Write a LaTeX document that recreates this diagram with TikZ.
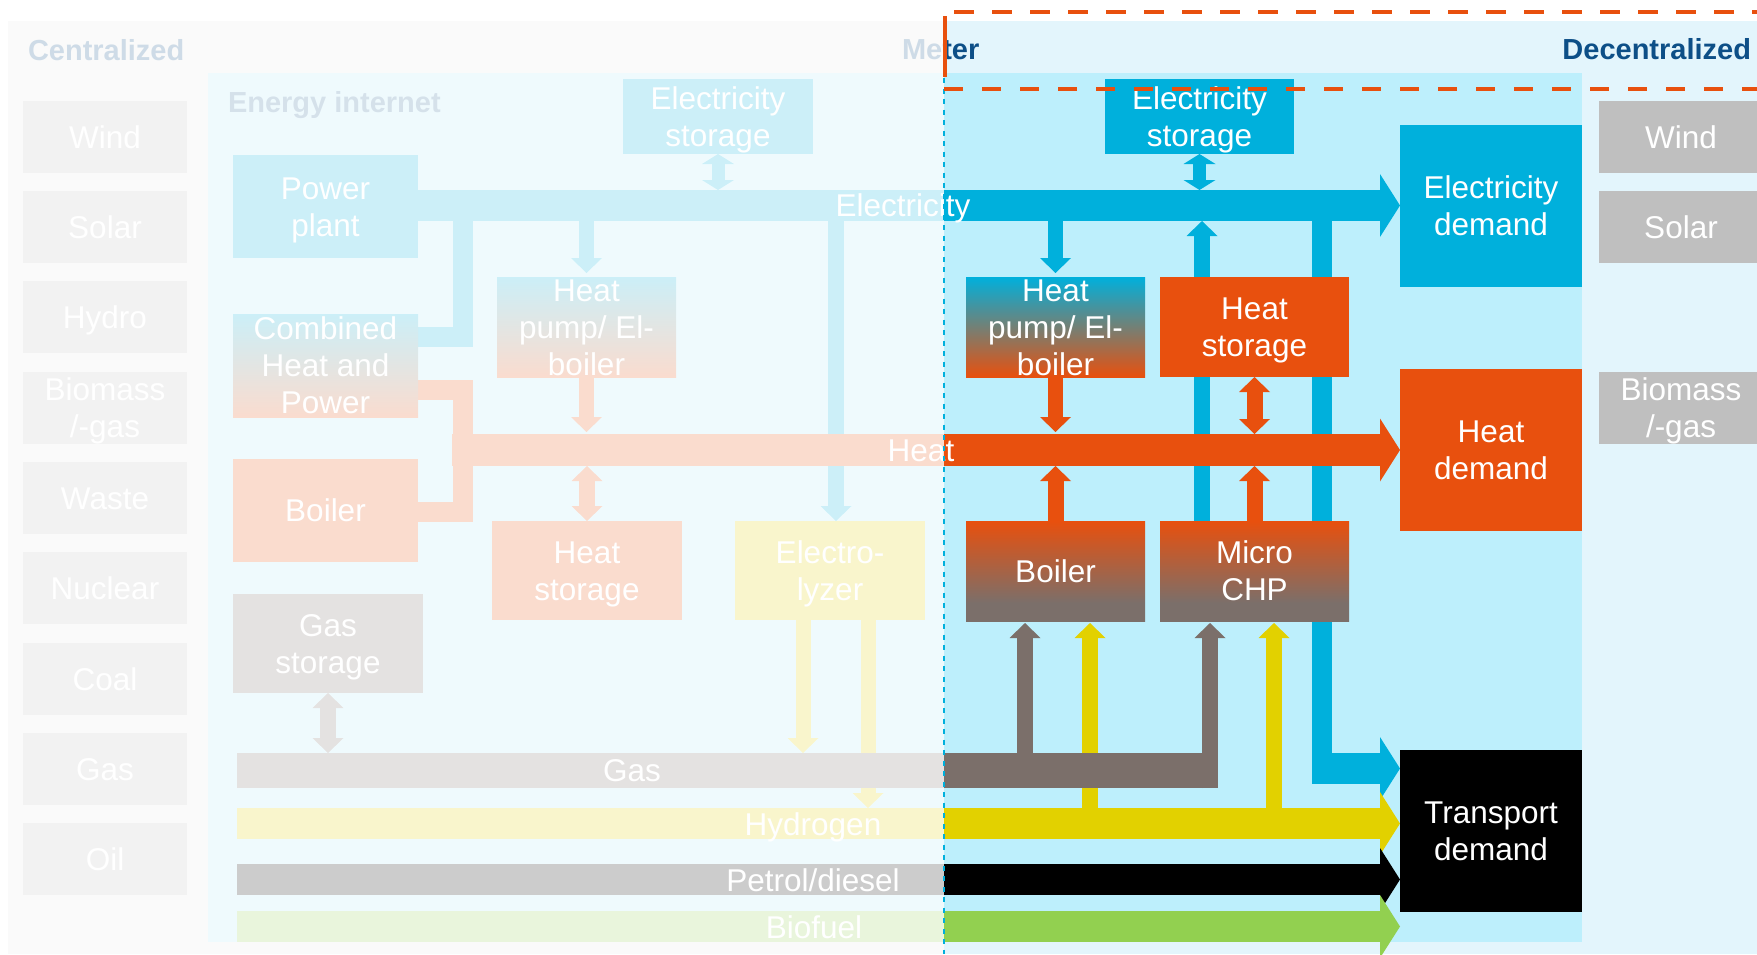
\documentclass[tikz,border=0pt]{standalone}
\usepackage{fontspec}
\setmainfont{Liberation Sans}
\usetikzlibrary{arrows.meta}
\definecolor{elecc}{HTML}{00B0DC}
\definecolor{heatc}{HTML}{E8500E}
\definecolor{gasc}{HTML}{7B6F6A}
\definecolor{htwo}{HTML}{E2D100}
\definecolor{bioc}{HTML}{92D050}
\definecolor{grayc}{HTML}{BFBFBF}
\definecolor{navy}{HTML}{0D4F87}
\definecolor{einetc}{HTML}{2F6A9A}
\definecolor{bgL}{HTML}{E6E6E6}
\definecolor{bgR}{HTML}{E3F5FC}
\definecolor{panL}{HTML}{B0EAF9}
\definecolor{panR}{HTML}{BDEFFC}
\pgfdeclareverticalshading{heatgas}{100bp}{color(0bp)=(gasc); color(34bp)=(gasc); color(75bp)=(heatc); color(100bp)=(heatc)}
\pgfdeclarelayer{bgl}
\pgfdeclarelayer{conn}
\pgfdeclarelayer{fade}
\pgfdeclarelayer{topl}
\pgfsetlayers{bgl,conn,main,fade,topl}
\newcommand\blabel[5]{%
  \foreach \lbt [count=\lbi] in {#5}{%
    \node[txt] (#1-\lbi) at (#2,{#3+11.25-(#4-1)*18.5+(\lbi-1)*37}) {\lbt};}}
\begin{document}
\begin{tikzpicture}[x=1pt,y=-1pt,
  bx/.style={rectangle, inner sep=0pt, outer sep=0pt, draw=none, anchor=north west},
  txt/.style={inner sep=0pt, outer sep=0pt, text=white, font=\fontsize{31.5}{37}\selectfont, anchor=base},
  hdr/.style={inner sep=0pt, outer sep=0pt, font=\bfseries\fontsize{29}{34}\selectfont},
  tipS/.tip={Triangle[length=15pt 0 0,width=31pt 0 0,line width=0pt 0 0]},
  tipB/.tip={Triangle[length=20pt 0 0,width=63pt 0 0,line width=0pt 0 0]},
  tipE/.tip={Triangle[length=10pt 0 0,width=32pt 0 0,line width=0pt 0 0]},
]
\useasboundingbox (0,0) rectangle (1757,954);
% backgrounds
\begin{pgfonlayer}{bgl}
\fill[bgL] (8,21) rectangle (944,954);
\fill[bgR] (944,21) rectangle (1757,954);
\fill[panL] (208,73) rectangle (944,942);
\fill[panR] (944,73) rectangle (1582,942);
\end{pgfonlayer}

% headers
\node[hdr, text=navy, anchor=base west] (cen) at (28,60) {Centralized};
\node[hdr, text=einetc, anchor=base west] (eint) at (228,112) {Energy internet};
\node[hdr, text=navy, anchor=base west] (meter) at (902,59) {Meter};
\node[hdr, text=navy, anchor=base east] (dec) at (1751,59) {Decentralized};

% left source column
\node[bx, fill=grayc, minimum width=164pt, minimum height=72pt] (wL) at (23,101) {};
\node[bx, fill=grayc, minimum width=164pt, minimum height=72pt] (sL) at (23,191) {};
\node[bx, fill=grayc, minimum width=164pt, minimum height=72pt] (hyL) at (23,281) {};
\node[bx, fill=grayc, minimum width=164pt, minimum height=72pt] (biL) at (23,372) {};
\node[bx, fill=grayc, minimum width=164pt, minimum height=72pt] (waL) at (23,462) {};
\node[bx, fill=grayc, minimum width=164pt, minimum height=72pt] (nuL) at (23,552) {};
\node[bx, fill=grayc, minimum width=164pt, minimum height=72pt] (coL) at (23,643) {};
\node[bx, fill=grayc, minimum width=164pt, minimum height=72pt] (gaL) at (23,733) {};
\node[bx, fill=grayc, minimum width=164pt, minimum height=72pt] (oiL) at (23,823) {};
\blabel{wL}{105}{137}{1}{Wind}
\blabel{sL}{105}{227}{1}{Solar}
\blabel{hyL}{105}{317}{1}{Hydro}
\blabel{biL}{105}{408}{2}{Biomass,/-gas}
\blabel{waL}{105}{498}{1}{Waste}
\blabel{nuL}{105}{588}{1}{Nuclear}
\blabel{coL}{105}{679}{1}{Coal}
\blabel{gaL}{105}{769}{1}{Gas}
\blabel{oiL}{105}{859}{1}{Oil}

% right source column
\node[bx, fill=grayc, minimum width=164pt, minimum height=72pt] (wR) at (1599,101) {};
\node[bx, fill=grayc, minimum width=164pt, minimum height=72pt] (sR) at (1599,191) {};
\node[bx, fill=grayc, minimum width=164pt, minimum height=72pt] (biR) at (1599,372) {};
\blabel{wR}{1681}{137}{1}{Wind}
\blabel{sR}{1681}{227}{1}{Solar}
\blabel{biR}{1681}{408}{2}{Biomass,/-gas}

% centralized boxes
\node[bx, fill=elecc, minimum width=185pt, minimum height=103pt] (pp) at (233,155) {};
\node[bx, fill=elecc, minimum width=190pt, minimum height=75pt] (esL) at (623,79) {};
\node[bx, top color=elecc, bottom color=heatc, minimum width=185pt, minimum height=103pt] (chp) at (233,314) {};
\node[bx, top color=elecc, bottom color=heatc, minimum width=179pt, minimum height=100pt] (hpL) at (497,277) {};
\node[bx, fill=heatc, minimum width=185pt, minimum height=103pt] (boL) at (233,459) {};
\node[bx, fill=heatc, minimum width=190pt, minimum height=99pt] (hsL) at (492,521) {};
\node[bx, fill=htwo, minimum width=190pt, minimum height=99pt] (ely) at (735,521) {};
\node[bx, fill=gasc, minimum width=190pt, minimum height=99pt] (gs) at (233,594) {};
\blabel{pp}{325.5}{206.5}{2}{Power,plant}
\blabel{esL}{718}{116.5}{2}{Electricity,storage}
\blabel{chp}{325.5}{365.5}{3}{Combined,Heat and,Power}
\blabel{hpL}{586.5}{327}{3}{Heat,pump/ El-,boiler}
\blabel{boL}{325.5}{510.5}{1}{Boiler}
\blabel{hsL}{587}{570.5}{2}{Heat,storage}
\blabel{ely}{830}{570.5}{2}{Electro-,lyzer}
\blabel{gs}{328}{643.5}{2}{Gas,storage}

% decentralized boxes
\node[bx, fill=elecc, minimum width=189pt, minimum height=75pt] (esR) at (1105,79) {};
\node[bx, top color=elecc, bottom color=heatc, minimum width=179pt, minimum height=100pt] (hpR) at (966,277) {};
\node[bx, fill=heatc, minimum width=189pt, minimum height=100pt] (hsR) at (1160,277) {};
\node[bx, shade, shading=heatgas, minimum width=179pt, minimum height=100pt] (boR) at (966,521) {};
\node[bx, shade, shading=heatgas, minimum width=189pt, minimum height=100pt] (mchp) at (1160,521) {};
\node[bx, fill=elecc, minimum width=182pt, minimum height=162pt] (ed) at (1400,125) {};
\node[bx, fill=heatc, minimum width=182pt, minimum height=162pt] (hd) at (1400,369) {};
\node[bx, fill=black, minimum width=182pt, minimum height=162pt] (td) at (1400,750) {};
\blabel{esR}{1199.5}{116.5}{2}{Electricity,storage}
\blabel{hpR}{1055.5}{327}{3}{Heat,pump/ El-,boiler}
\blabel{hsR}{1254.5}{327}{2}{Heat,storage}
\blabel{boR}{1055.5}{571}{1}{Boiler}
\blabel{mchp}{1254.5}{571}{2}{Micro,CHP}
\blabel{ed}{1491}{206}{2}{Electricity,demand}
\blabel{hd}{1491}{450}{2}{Heat,demand}
\blabel{td}{1491}{831}{2}{Transport,demand}

% bus labels
\node[txt] (lbE) at (903,216.5) {Electricity};
\node[txt] (lbH) at (921,461) {Heat};
\node[txt] (lbG) at (632,781.5) {Gas};
\node[txt] (lbY) at (813,835) {Hydrogen};
\node[txt] (lbP) at (813,891) {Petrol/diesel};
\node[txt] (lbB) at (814,938) {Biofuel};

% helper coordinates
\coordinate (ebus) at (0,205.5);
\coordinate (ebtop) at (0,190);
\coordinate (ebbot) at (0,221);
\coordinate (hbus) at (0,450);
\coordinate (hbtop) at (0,434);
\coordinate (hbbot) at (0,466);
\coordinate (gbus) at (0,770.5);
\coordinate (gbtop) at (0,753);
\coordinate (gbbot) at (0,788);
\coordinate (h2bus) at (0,823.5);
\coordinate (h2top) at (0,808);
\coordinate (pbus) at (0,879.5);
\coordinate (bfbus) at (0,926.5);
\coordinate (tbus) at (0,768.5);
\coordinate (tbbot) at (0,784);
\coordinate (elyx) at (836,0);
\coordinate (mcex) at (1202,0);
\coordinate (tvx) at (1322,0);
\coordinate (tvl) at (1312,768.5);
\coordinate (e1x) at (803,0);
\coordinate (e2x) at (868,0);
\coordinate (h1x) at (1090,0);
\coordinate (h2x) at (1274,0);
\coordinate (g1x) at (1025,0);
\coordinate (g2x) at (1210,0);
\coordinate (gbw) at (237,770.5);
\coordinate (gbe) at (1218,770.5);
\coordinate (h2w) at (237,823.5);
\coordinate (pw) at (237,879.5);
\coordinate (bw) at (237,926.5);
\coordinate (chpe) at (462.5,337);
\coordinate (chph) at (462.5,390);
\coordinate (boh) at (0,512);
\coordinate (hbw) at (452,450);

\begin{pgfonlayer}{conn}
% electricity lines running under the heat bus
\draw[elecc, line width=16pt, -{tipS}] (elyx |- ebus) -- (elyx |- ely.north);
\draw[elecc, line width=16pt, -{tipS}] (mcex |- mchp.north) -- (mcex |- ebbot);
\draw[elecc, line width=20pt] (tvx |- ebus) -- (tvx |- tbbot);
\draw[elecc, line width=31pt, -{tipB}] (tvl) -- (td.west |- tbus);
% hydrogen lines running under the gas bus
\draw[htwo, line width=15pt, -{tipS}] (e2x |- ely.south) -- (e2x |- h2top);
\draw[htwo, line width=16pt, -{tipS}, shorten >=2pt] (h1x |- h2bus) -- (h1x |- boR.south);
\draw[htwo, line width=16pt, -{tipS}, shorten >=2pt] (h2x |- h2bus) -- (h2x |- mchp.south);
% gas
\draw[gasc, line width=35pt] (gbw) -- (gbe);
\draw[gasc, line width=16pt, -{tipS}, shorten >=2pt] (g1x |- gbus) -- (g1x |- boR.south);
\draw[gasc, line width=16pt, -{tipS}, shorten >=2pt] (g2x |- gbbot) -- (g2x |- mchp.south);
\draw[gasc, line width=16pt, {tipS}-{tipS}] (gs.south) -- (gs.south |- gbtop);
\draw[htwo, line width=15pt, -{tipS}] (e1x |- ely.south) -- (e1x |- gbtop);
% fuel buses
\draw[htwo, line width=31pt, -{tipB}] (h2w) -- (td.west |- h2bus);
\draw[black, line width=31pt, -{tipB}] (pw) -- (td.west |- pbus);
\draw[bioc, line width=31pt, -{tipB}] (bw) -- (td.west |- bfbus);
% electricity
\draw[elecc, line width=20pt, line join=miter] (chp.east |- chpe) -- (chpe) -- (chpe |- ebus);
\draw[elecc, line width=31pt, -{tipB}] (pp.east |- ebus) -- (ed.west |- ebus);
\draw[elecc, line width=13pt, {tipE}-{tipE}] (esL.south) -- (esL.south |- ebtop);
\draw[elecc, line width=13pt, {tipE}-{tipE}] (esR.south) -- (esR.south |- ebtop);
\draw[elecc, line width=15pt, -{tipS}, shorten >=4pt] (hpL.north |- ebus) -- (hpL.north);
\draw[elecc, line width=15pt, -{tipS}, shorten >=4pt] (hpR.north |- ebus) -- (hpR.north);
% heat
\draw[heatc, line width=20pt, line join=miter] (chp.east |- chph) -- (chph) -- (chph |- boh) -- (boL.east |- boh);
\draw[heatc, line width=32pt, -{tipB}] (hbw) -- (hd.west |- hbus);
\draw[heatc, line width=15pt, -{tipS}, shorten >=2pt] (hpL.south) -- (hpL.south |- hbtop);
\draw[heatc, line width=15pt, -{tipS}, shorten >=2pt] (hpR.south) -- (hpR.south |- hbtop);
\draw[heatc, line width=16pt, {tipS}-{tipS}] (hsL.north) -- (hsL.north |- hbbot);
\draw[heatc, line width=16pt, {tipS}-{tipS}] (hsR.south) -- (hsR.south |- hbtop);
\draw[heatc, line width=16pt, -{tipS}] (boR.north) -- (boR.north |- hbbot);
\draw[heatc, line width=16pt, -{tipS}] (mchp.north) -- (mchp.north |- hbbot);
\end{pgfonlayer}

% fading of the centralized side
\begin{pgfonlayer}{fade}
\fill[white, fill opacity=0.8] (0,0) rectangle (944,954);
\end{pgfonlayer}

% meter lines
\coordinate (mtop) at (944,78);
\coordinate (mbot) at (944,954);
\coordinate (otl) at (954,12);
\coordinate (otr) at (1760,12);
\coordinate (obl) at (944,89);
\coordinate (obr) at (1760,89);
\coordinate (ovt) at (945,16);
\coordinate (ovb) at (945,77);
\begin{pgfonlayer}{topl}
\draw[elecc, line width=2.5pt, dash pattern=on 5pt off 5.5pt] (mtop) -- (mbot);
\draw[heatc, line width=4.5pt, dash pattern=on 20pt off 18pt] (otl) -- (otr);
\draw[heatc, line width=4.5pt, dash pattern=on 19pt off 19pt] (obl) -- (obr);
\draw[heatc, line width=4pt] (ovt) -- (ovb);
\end{pgfonlayer}
\end{tikzpicture}
\end{document}
